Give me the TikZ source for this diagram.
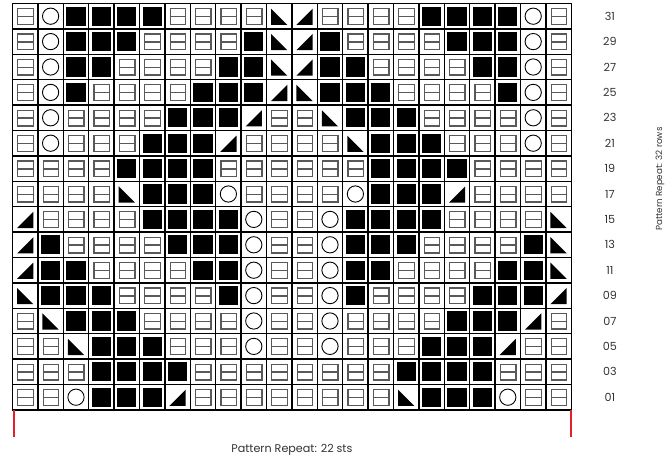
\documentclass[tikz,border=0pt]{standalone}
\usepackage{fontspec}
\setmainfont{Poppins}
\usepackage{tikz}

\definecolor{repeatred}{HTML}{E2202B}
\definecolor{labelgray}{HTML}{333333}

\tikzset{
  pics/p/.style={code={
    \draw[black!65,line width=1.3bp] (0.21,0.18) rectangle (0.82,0.80);
    \draw[black!65,line width=1.3bp] (0.21,0.49) -- (0.82,0.49);}},
  pics/o/.style={code={\draw[line width=0.9bp] (0.5,0.5) circle (0.32);}},
  pics/k/.style={code={\fill (0.12,0.12) rectangle (0.88,0.88);}},
  pics/L/.style={code={\fill (0.18,0.16) -- (0.82,0.16) -- (0.82,0.80) -- cycle;}},
  pics/R/.style={code={\fill (0.18,0.80) -- (0.18,0.16) -- (0.82,0.16) -- cycle;}},
  chartlabel/.style={text=labelgray,font=\fontsize{11.2}{13}\selectfont,inner sep=0pt}
}

\begin{document}
\begin{tikzpicture}[x=25.4bp,y=25.4bp]
  \useasboundingbox (-0.492,-2.012) rectangle (25.886,16.138);
  \foreach \cells [count=\r from 0] in {
    {p,p,o,k,k,k,L,p,p,p,p,p,p,p,p,R,k,k,k,o,p,p},
    {p,p,p,k,k,k,k,p,p,p,p,p,p,p,p,k,k,k,k,p,p,p},
    {p,p,R,k,k,k,p,p,p,o,p,p,o,p,p,p,k,k,k,L,p,p},
    {p,R,k,k,k,p,p,p,p,o,p,p,o,p,p,p,p,k,k,k,L,p},
    {R,k,k,k,p,p,p,p,k,o,p,p,o,k,p,p,p,p,k,k,k,L},
    {L,k,k,p,p,p,p,k,k,o,p,p,o,k,k,p,p,p,p,k,k,R},
    {L,k,p,p,p,p,k,k,k,o,p,p,o,k,k,k,p,p,p,p,k,R},
    {L,p,p,p,p,k,k,k,k,o,p,p,o,k,k,k,k,p,p,p,p,R},
    {p,p,p,p,R,k,k,k,o,p,p,p,p,o,k,k,k,L,p,p,p,p},
    {p,p,p,p,k,k,k,k,p,p,p,p,p,p,k,k,k,k,p,p,p,p},
    {p,o,p,p,p,k,k,k,L,p,p,p,p,R,k,k,k,p,p,p,o,p},
    {p,o,p,p,p,p,k,k,k,L,p,p,R,k,k,k,p,p,p,p,o,p},
    {p,o,k,p,p,p,p,k,k,k,L,R,k,k,k,p,p,p,p,k,o,p},
    {p,o,k,k,p,p,p,p,k,k,R,L,k,k,p,p,p,p,k,k,o,p},
    {p,o,k,k,k,p,p,p,p,k,R,L,k,p,p,p,p,k,k,k,o,p},
    {p,o,k,k,k,k,p,p,p,p,R,L,p,p,p,p,k,k,k,k,o,p}}
    \foreach \s [count=\c from 0] in \cells \pic at (\c,\r) {\s};
  \draw[line width=1.3bp,step={(1,1)}] (0,0) grid (22,16);
  \foreach \n [count=\r from 0] in {01,03,05,07,09,11,13,15,17,19,21,23,25,27,29,31}
    \node[chartlabel] (row\n) at (23.52,\r+0.5) {\n};
  \node[chartlabel,font=\fontsize{8.8}{10}\selectfont,rotate=90] (rowrepeat) at (25.49,9.09) {Pattern Repeat: 32 rows};
  \draw[repeatred,line width=2bp] (0.05,0) -- (0.05,-1.07) (21.98,0) -- (21.98,-1.07);
  \node[chartlabel] (strepeat) at (11,-1.58) {Pattern Repeat: 22 sts};
\end{tikzpicture}
\end{document}
